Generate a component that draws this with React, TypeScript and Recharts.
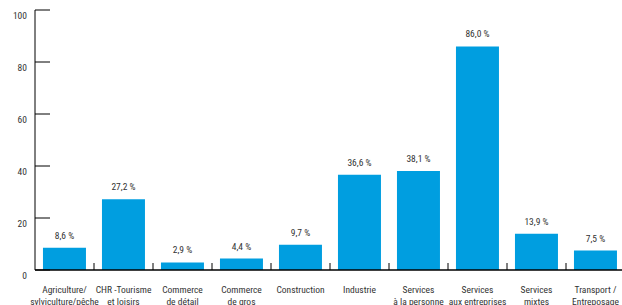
import React from 'react';
import { BarChart, Bar, XAxis, YAxis, LabelList } from 'recharts';

const categories = [
  'Agriculture/\nsylviculture/pêche',
  'CHR -Tourisme\net loisirs',
  'Commerce\nde détail',
  'Commerce\nde gros',
  'Construction',
  'Industrie',
  'Services\nà la personne',
  'Services\naux entreprises',
  'Services\nmixtes',
  'Transport /\nEntreposage',
];
const values = [8.6, 27.2, 2.9, 4.4, 9.7, 36.6, 38.1, 86.0, 13.9, 7.5];
const yTicks = [0, 20, 40, 60, 80, 100];

const data = categories.map((c, i) => ({ name: c, value: values[i] }));

const CHART_W = 625;
const CHART_H = 305;
const Y_W = 35;
const PLOT_W = CHART_W - Y_W;
const FONT = "'Roboto Condensed', 'Liberation Sans Narrow', 'DejaVu Sans Condensed', Roboto, sans-serif";
const TEXT = '#333333';

const fmt = (v: number) => v.toFixed(1).replace('.', ',') + ' %';

const YTick = (props: any) => {
  const { x, y, payload } = props;
  return (
    <g>
      <line x1={x + 8} x2={x + 23} y1={y} y2={y} stroke="#000" strokeWidth={1} />
      <text x={x} y={y + 9} textAnchor="end" fontSize={9.5} fill={TEXT} fontFamily={FONT}>
        {payload.value}
      </text>
    </g>
  );
};

const XTick = (props: any) => {
  const { x, y, payload, index } = props;
  const band = PLOT_W / categories.length;
  const lines = String(payload.value).split('\n');
  return (
    <g>
      {index > 0 && (
        <line x1={x - band / 2} x2={x - band / 2} y1={y} y2={y - 7} stroke="#000" strokeWidth={1} />
      )}
      <text x={x} y={y + 23} textAnchor="middle" fontSize={9.5} fill={TEXT} fontFamily={FONT}>
        {lines.map((l, i) => (
          <tspan key={i} x={x} dy={i === 0 ? 0 : 11.5}>
            {l}
          </tspan>
        ))}
      </text>
    </g>
  );
};

export default function App() {
  return (
    <div style={{ position: 'absolute', left: 0, top: 0, width: 622, height: 305, overflow: 'hidden', background: '#fff' }}>
      <BarChart
        width={CHART_W}
        height={CHART_H}
        data={data}
        margin={{ top: 10, right: 0, bottom: 0, left: 0 }}
        barCategoryGap="13.5%"
      >
        <XAxis
          dataKey="name"
          interval={0}
          height={35}
          tickSize={0}
          tickMargin={0}
          tickLine={false}
          axisLine={{ stroke: '#000', strokeWidth: 1.5 }}
          tick={<XTick />}
        />
        <YAxis
          width={Y_W}
          domain={[0, 100]}
          ticks={yTicks}
          interval={0}
          tickSize={0}
          tickMargin={8}
          tickLine={false}
          axisLine={{ stroke: '#000', strokeWidth: 1 }}
          tick={<YTick />}
        />
        <Bar dataKey="value" fill="#009ee0" isAnimationActive={false}>
          <LabelList
            dataKey="value"
            position="top"
            offset={9}
            formatter={(v: any) => fmt(Number(v))}
            style={{ fontSize: 9.5, fill: TEXT, fontFamily: FONT }}
          />
        </Bar>
      </BarChart>
    </div>
  );
}
